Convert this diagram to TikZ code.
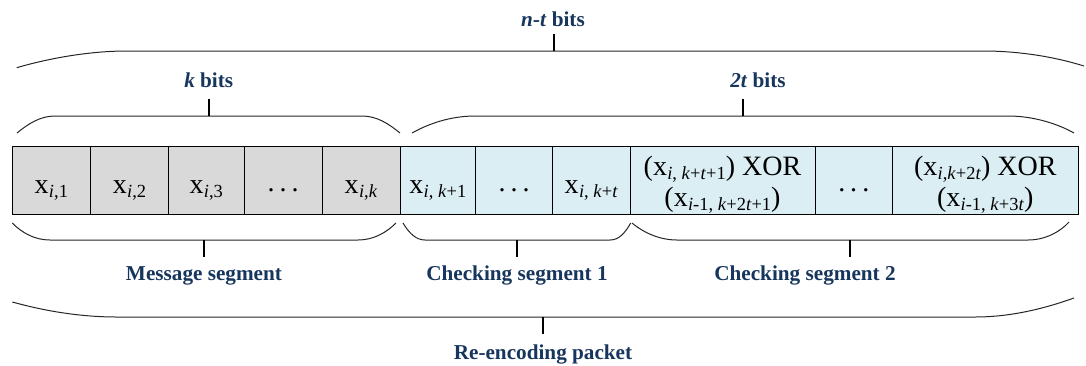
\documentclass[tikz,border=0pt]{standalone}
\usepackage{fontspec}
\setmainfont{Liberation Serif}
\definecolor{navy}{RGB}{23,54,93}
\definecolor{cgrey}{RGB}{217,217,217}
\definecolor{cblue}{RGB}{219,238,244}
\newcommand{\xs}[1]{x\kern0.3pt\raisebox{-4pt}{\fontsize{18.5}{18.5}\selectfont #1}}
\newcommand{\sdots}{.\hspace{5pt}.\hspace{5pt}.}
\begin{document}
\begin{tikzpicture}[x=1pt,y=-1pt,
  cellg/.style={draw=black, line width=0.9pt, fill=cgrey, minimum height=68pt, inner sep=0pt},
  cellb/.style={cellg, fill=cblue},
  ctext/.style={font=\fontsize{28}{32}\selectfont, anchor=base, inner sep=0pt},
  lab/.style={font=\fontsize{21.2}{24}\selectfont\bfseries, text=navy, anchor=base, inner sep=0pt},
  brace/.style={draw=black!85, line width=1pt},
  tick/.style={draw=black, line width=1.1pt}]
\useasboundingbox (0,0) rectangle (1086,365);
% cells
\node[cellg, minimum width=78.7pt] (c1) at (51.35,180) {};
\node[cellg, minimum width=77.6pt] (c2) at (129.5,180) {};
\node[cellg, minimum width=76pt]   (c3) at (206.3,180) {};
\node[cellg, minimum width=77.7pt] (c4) at (283.15,180) {};
\node[cellg, minimum width=78pt]   (c5) at (361,180) {};
\node[cellb, minimum width=75.7pt] (c6) at (437.85,180) {};
\node[cellb, minimum width=76.8pt] (c7) at (514.1,180) {};
\node[cellb, minimum width=77.5pt] (c8) at (591.25,180) {};
\node[cellb, minimum width=185pt]  (c9) at (722.5,180) {};
\node[cellb, minimum width=77.5pt] (c10) at (853.75,180) {};
\node[cellb, minimum width=185.5pt] (c11) at (985.25,180) {};
% cell texts
\node[ctext] (t1) at ([yshift=-13pt]c1.center) {\xs{\textit{i},1}};
\node[ctext] (t2) at ([yshift=-13pt]c2.center) {\xs{\textit{i},2}};
\node[ctext] (t3) at ([yshift=-13pt]c3.center) {\xs{\textit{i},3}};
\node[ctext] (t4) at ([yshift=-11pt]c4.center) {\sdots};
\node[ctext] (t5) at ([yshift=-13pt]c5.center) {\xs{\textit{i},\textit{k}}};
\node[ctext] (t6) at ([yshift=-13pt]c6.center) {\xs{\textit{i}, \textit{k}+1}};
\node[ctext] (t7) at ([yshift=-11pt]c7.center) {\sdots};
\node[ctext] (t8) at ([yshift=-13pt]c8.center) {\xs{\textit{i}, \textit{k}+\textit{t}}};
\node[ctext] (t9a) at ([yshift=5pt]c9.center) {(\xs{\textit{i}, \textit{k}+\textit{t}+1}) XOR};
\node[ctext] (t9b) at ([yshift=-26.7pt]c9.center) {(\xs{\textit{i}-1, \textit{k}+2\textit{t}+1})};
\node[ctext] (t10) at ([yshift=-11pt]c10.center) {\sdots};
\node[ctext] (t11a) at ([yshift=5pt]c11.center) {(\xs{\textit{i},\textit{k}+2\textit{t}}) XOR};
\node[ctext] (t11b) at ([yshift=-26.7pt]c11.center) {(\xs{\textit{i}-1, \textit{k}+3\textit{t}})};
% labels
\node[lab] (lnt) at (553,26) {\textit{n-t} bits};
\node[lab] (lk) at (208.7,87) {\textit{k} bits};
\node[lab] (l2t) at (758,87) {\textit{2t} bits};
\node[lab] (lms) at (204,280.5) {Message segment};
\node[lab] (lc1) at (517,280.5) {Checking segment 1};
\node[lab] (lc2) at (805,280.5) {Checking segment 2};
\node[lab] (lre) at (543,359) {Re-encoding packet};
% tick coordinates
\coordinate (bnt) at (554,51);  \coordinate (ent) at (554,34);
\coordinate (bk) at (209,116);  \coordinate (ek) at (209,99);
\coordinate (b2t) at (743,116); \coordinate (e2t) at (743,99);
\coordinate (bms) at (204,240); \coordinate (ems) at (204,257);
\coordinate (bc1) at (517,240); \coordinate (ec1) at (517,257);
\coordinate (bc2) at (850,240); \coordinate (ec2) at (850,257);
\coordinate (bre) at (543,317); \coordinate (ere) at (543,334);
% braces top
\draw[brace] (16.7,67.7) .. controls (50,58) and (90,51) .. (127,51) -- (983,51) .. controls (1020,51) and (1055,57) .. (1084,66);
\draw[brace] (17,133) .. controls (28,124) and (40,116) .. (55,116) -- (362,116) .. controls (377,116) and (389,124) .. (400,133);
\draw[brace] (412,133) .. controls (428,124) and (450,116) .. (475,116) -- (1008,116) .. controls (1034,116) and (1058,124) .. (1074,133);
% braces bottom
\draw[brace] (12.3,223) .. controls (22,233) and (35,240) .. (50,240) -- (358,240) .. controls (373,240) and (386,233) .. (396,223);
\draw[brace] (403,223) .. controls (409,233) and (416,240) .. (425,240) -- (610,240) .. controls (619,240) and (625,233) .. (630.7,223);
\draw[brace] (632,223) .. controls (644,233) and (660,240) .. (677,240) -- (1028,240) .. controls (1045,240) and (1060,232) .. (1069,222);
\draw[brace] (12.3,302) .. controls (45,311) and (80,317) .. (117,317) -- (975,317) .. controls (1012,317) and (1046,308) .. (1074,298);
% ticks
\draw[tick] (bnt) -- (ent);
\draw[tick] (bk) -- (ek);
\draw[tick] (b2t) -- (e2t);
\draw[tick] (bms) -- (ems);
\draw[tick] (bc1) -- (ec1);
\draw[tick] (bc2) -- (ec2);
\draw[tick] (bre) -- (ere);
\end{tikzpicture}
\end{document}
